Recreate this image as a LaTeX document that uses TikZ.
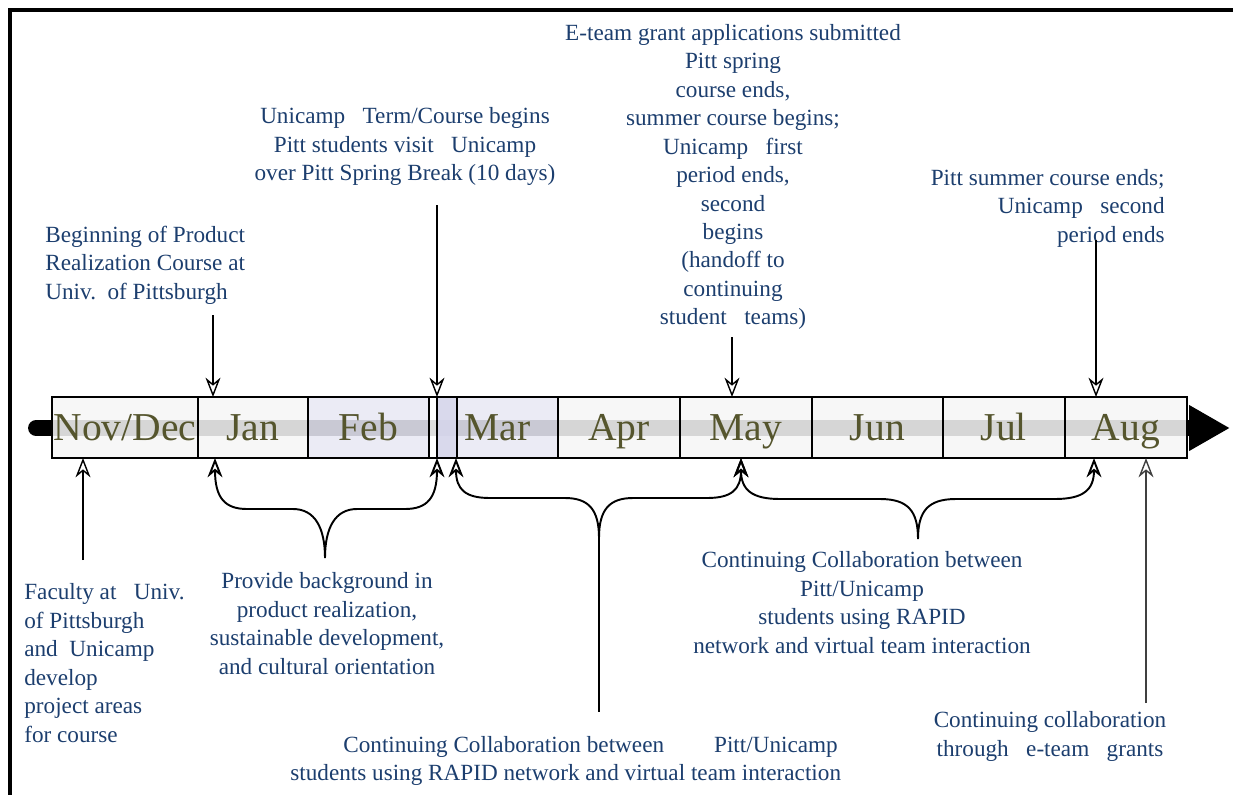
\documentclass[tikz,border=0pt]{standalone}
\usepackage{fontspec}
\setmainfont{Liberation Serif}
\usetikzlibrary{positioning,arrows.meta}
\definecolor{notecol}{RGB}{28,62,110}
\definecolor{monthcol}{RGB}{85,85,45}
\definecolor{paper}{RGB}{246,246,246}
\definecolor{lav}{RGB}{232,232,244}
\definecolor{lavdark}{RGB}{214,214,236}
\begin{document}
\begin{tikzpicture}[x=0.02cm, y=-0.02cm,
    month/.style={rectangle, draw, line width=1pt, fill=paper, fill opacity=0.87, text opacity=1, text=monthcol, inner sep=0pt, outer sep=0pt, minimum height=1.22cm, text height=0.6cm, text depth=0.1cm, font=\fontsize{22.5}{26}\selectfont},
    note/.style={text=notecol, inner sep=0pt, font=\fontsize{13.2}{16.2}\selectfont},
    tip/.style={-{Stealth[open, length=11pt, width=8.5pt, inset=3.5pt]}, line width=0.8pt},
    curly/.style={{Stealth[open, length=11pt, width=8.5pt, inset=3.5pt]}-{Stealth[open, length=11pt, width=8.5pt, inset=3.5pt]}, line width=1.1pt}]
    \useasboundingbox (0,0) rectangle (1233,795);
    \draw[line width=0.09cm] (8,10) -- (1233,10);
    \draw[line width=0.09cm] (10,8) -- (10,795);

    \coordinate (tlStart) at (36,428);
    \coordinate (tlEnd) at (1230,428);
    \draw[line width=9pt, line cap=round, -{Triangle[length=0.82cm, width=0.86cm]}] (tlStart) -- (tlEnd);

    \node[month, minimum width=2.92cm, anchor=west] (nov) at (52,427.5) {Nov/Dec};
    \node[month, minimum width=2.2cm, right=0pt of nov] (jan) {Jan};
    \node[month, minimum width=2.42cm, fill=lav, right=0pt of jan] (feb) {Feb};
    \node[month, minimum width=0.16cm, fill=white, right=0pt of feb] (brk) {};
    \node[month, minimum width=2.42cm, fill=lav, right=0pt of brk] (mar) {Mar};
    \node[month, minimum width=2.44cm, right=0pt of mar] (apr) {Apr};
    \node[month, minimum width=2.64cm, right=0pt of apr] (may) {May};
    \node[month, minimum width=2.62cm, right=0pt of may] (jun) {Jun};
    \node[month, minimum width=2.44cm, right=0pt of jun] (jul) {Jul};
    \node[month, minimum width=2.44cm, right=0pt of jul] (aug) {Aug};
    \node[month, minimum width=0.4cm, fill=lavdark, right=0pt of brk] (visit) {};

    \node[note, align=left, anchor=west] (begin) at (45,265) {Beginning of Product\\Realization Course at\\Univ.\ \ of Pittsburgh};
    \node[note, align=center] (visitTxt) at (405,146.5) {Unicamp\ \ \ Term/Course begins\\Pitt students visit\ \ \ Unicamp\\over Pitt Spring Break (10 days)};
    \node[note, align=center] (eteam) at (733,177) {E-team grant applications submitted\\Pitt spring\\course ends,\\summer course begins;\\Unicamp\ \ \ first\\period ends,\\second\\begins\\(handoff to\\continuing\\student\ \ \ teams)};
    \node[note, align=right, anchor=east] (summer) at (1165,208) {Pitt summer course ends;\\Unicamp\ \ \ second\\period ends};
    \node[note, align=left, anchor=west] (faculty) at (24,663) {Faculty at\ \ \ Univ.\\of Pittsburgh\\and\ \ Unicamp\\develop\\project areas\\for course};
    \node[note, align=center] (bground) at (327,623.5) {Provide background in\\product realization,\\sustainable development,\\and cultural orientation};
    \node[note, align=center] (collab) at (862,602.5) {Continuing Collaboration between\\Pitt/Unicamp\\students using RAPID\\network and virtual team interaction};
    \node[note, align=left, anchor=west] (collabLow) at (290,761) {\hspace*{1.06cm}Continuing Collaboration between\hspace{1cm}Pitt/Unicamp\\students using RAPID network and virtual team interaction};
    \node[note, align=center] (grant) at (1050,736.5) {Continuing collaboration\\through\ \ \ e-team\ \ \ grants};

    \coordinate (begFoot) at (213,315);
    \coordinate (janT) at (213,397);
    \coordinate (visFoot) at (437,205);
    \coordinate (visT) at (437,397);
    \coordinate (eteamFoot) at (732,337);
    \coordinate (mayT) at (732,397);
    \coordinate (sumFoot) at (1096,240);
    \coordinate (augT) at (1096,397);
    \coordinate (facFoot) at (83,560);
    \coordinate (novB) at (83,458);
    \coordinate (grantFoot) at (1146,703);
    \coordinate (augB) at (1146,458);
    \coordinate (janB) at (215,458);
    \coordinate (visB) at (437,458);
    \coordinate (marB) at (456,458);
    \coordinate (mayB) at (741,458);
    \coordinate (augL) at (1094,458);
    \coordinate (bgPt) at (325,558);
    \coordinate (collPt) at (599,538);
    \coordinate (collFoot) at (599,712);
    \coordinate (teamPt) at (918,539);

    \draw[tip] (begFoot) -- (janT);
    \draw[tip] (visFoot) -- (visT);
    \draw[tip] (eteamFoot) -- (mayT);
    \draw[tip] (sumFoot) -- (augT);
    \draw[tip] (facFoot) -- (novB);
    \draw[tip, draw=black!75] (grantFoot) -- (augB);

    \draw[curly] (janB) .. controls +(0,40) and +(-22,0) .. (247,509) -- (293,509) .. controls +(22,0) and +(0,-30) .. (bgPt) .. controls +(0,-30) and +(-22,0) .. (357,509) -- (405,509) .. controls +(22,0) and +(0,40) .. (visB);
    \draw[curly] (marB) .. controls +(0,32) and +(-24,0) .. (490,498) -- (565,498) .. controls +(24,0) and +(0,-28) .. (collPt) .. controls +(0,-28) and +(-24,0) .. (633,498) -- (707,498) .. controls +(24,0) and +(0,32) .. (mayB);
    \draw[curly] (mayB) .. controls +(0,32) and +(-28,0) .. (780,499) -- (880,499) .. controls +(28,0) and +(0,-28) .. (teamPt) .. controls +(0,-28) and +(-28,0) .. (956,499) -- (1055,499) .. controls +(28,0) and +(0,32) .. (augL);
    \draw[line width=1.1pt] (collPt) -- (collFoot);
\end{tikzpicture}
\end{document}
